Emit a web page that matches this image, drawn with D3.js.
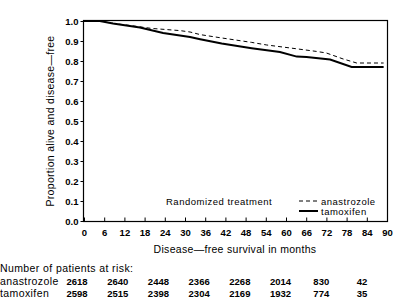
<!DOCTYPE html>
<html>
<head>
<meta charset="utf-8">
<script src="https://cdn.jsdelivr.net/npm/d3@7"></script>
<style>
  html,body{margin:0;padding:0;background:#fff;}
  svg text{font-family:"Liberation Sans",Arial,sans-serif;fill:#000;}
</style>
</head>
<body>
<div id="chart"></div>
<script>
/* ---- data ---- */
const xTicks = [0,6,12,18,24,30,36,42,48,54,60,66,72,78,84,90];
const yTicks = [0,0.1,0.2,0.3,0.4,0.5,0.6,0.7,0.8,0.9,1.0];

// [month, proportion]
const anastrozole = [[0,1],[4.7,1],[8.6,0.988],[13.5,0.978],[20,0.963],[28.5,0.952],[31.5,0.945],[34.5,0.932],
                     [39.8,0.918],[49.8,0.893],[54.3,0.88],[62.7,0.862],[69,0.848],[72,0.84],[77,0.81],
                     [81,0.79],[89,0.79]];
const tamoxifen   = [[0,1],[4.7,1],[8.6,0.987],[16.6,0.967],[23.5,0.94],[31.5,0.92],[34.5,0.909],
                     [40.9,0.887],[49.8,0.864],[58.2,0.845],[63.2,0.822],[66.1,0.82],[73.1,0.807],
                     [79.5,0.77],[89,0.77]];

const riskMonths = [0,12,24,36,48,60,72,84];
const riskAna    = [2618,2640,2448,2366,2268,2014,830,42];
const riskTam    = [2598,2515,2398,2304,2169,1932,774,35];

const W = 400, H = 300;
const svg = d3.select('#chart').append('svg')
  .attr('width',W).attr('height',H);

const x = d3.scaleLinear().domain([0,90]).range([84,387]);
const y = d3.scaleLinear().domain([0,1]).range([221,21]);

// frame
svg.append('rect')
  .attr('x',x(0)-0.5).attr('y',y(1)-0.5)
  .attr('width',x(90)-x(0)+1).attr('height',y(0)-y(1)+1)
  .attr('fill','none').attr('stroke','#000').attr('stroke-width',1.2);

// y axis
const yAx = svg.append('g')
  .attr('transform',`translate(${x(0)-0.5},0)`)
  .call(d3.axisLeft(y).tickValues(yTicks).tickFormat(d3.format('.1f')).tickSize(3).tickPadding(2));
yAx.select('.domain').remove();
yAx.selectAll('text').style('font-size','9.5px').style('font-weight','bold');

// x axis (ticks point inward)
const xAx = svg.append('g')
  .attr('transform',`translate(0,${y(0)+0.5})`)
  .call(d3.axisBottom(x).tickValues(xTicks).tickSize(-4).tickPadding(8));
xAx.select('.domain').remove();
xAx.selectAll('text').style('font-size','9.5px').style('font-weight','bold');

// axis titles
svg.append('text')
  .attr('transform',`translate(54,${(y(0)+y(1))/2}) rotate(-90)`)
  .attr('text-anchor','middle')
  .style('font-size','10.5px').style('letter-spacing','0.3px')
  .text('Proportion alive and disease\u2014free');

svg.append('text')
  .attr('x',235).attr('y',253)
  .attr('text-anchor','middle')
  .style('font-size','10.5px').style('letter-spacing','0.3px')
  .text('Disease\u2014free survival in months');

// curves
const line = d3.line().x(d=>x(d[0])).y(d=>y(d[1]));
svg.append('path').datum(anastrozole)
  .attr('fill','none').attr('stroke','#000').attr('stroke-width',1)
  .attr('stroke-dasharray','4,3').attr('d',line);
svg.append('path').datum(tamoxifen)
  .attr('fill','none').attr('stroke','#000').attr('stroke-width',2).attr('d',line);

// legend
const lg = svg.append('g').style('font-size','9.5px').style('letter-spacing','0.5px');
lg.append('text').attr('x',166).attr('y',205).text('Randomized treatment');
lg.append('line').attr('x1',299).attr('x2',318).attr('y1',201).attr('y2',201)
  .attr('stroke','#000').attr('stroke-width',1).attr('stroke-dasharray','4,3');
lg.append('text').attr('x',321).attr('y',204.5).text('anastrozole');
lg.append('line').attr('x1',299).attr('x2',318).attr('y1',211).attr('y2',211)
  .attr('stroke','#000').attr('stroke-width',2);
lg.append('text').attr('x',321).attr('y',215).text('tamoxifen');

// patients at risk table
const rx = d3.scaleLinear().domain([0,84]).range([77,362]);
svg.append('text').attr('x',0).attr('y',272)
  .style('font-size','10.5px').style('letter-spacing','0.4px')
  .text('Number of patients at risk:');
[['anastrozole',riskAna,285],['tamoxifen',riskTam,297]].forEach(([name,vals,yy])=>{
  svg.append('text').attr('x',0).attr('y',yy)
    .style('font-size','10.5px').style('letter-spacing','0.4px').text(name);
  svg.selectAll(null).data(vals).enter().append('text')
    .attr('x',(d,i)=>rx(riskMonths[i]))
    .attr('y',yy)
    .attr('text-anchor','middle')
    .style('font-size','9.5px').style('font-weight','bold')
    .text(d=>d);
});
</script>
</body>
</html>
